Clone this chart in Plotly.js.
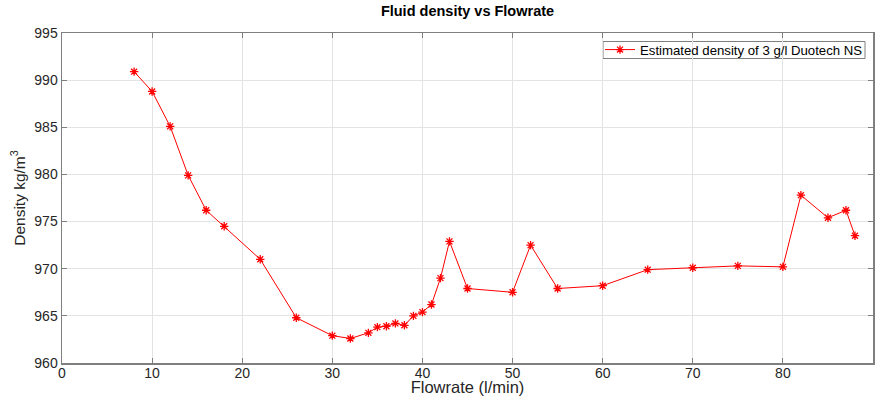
<!DOCTYPE html>
<html>
<head>
<meta charset="utf-8">
<script src="https://cdn.plot.ly/plotly-3.0.1.min.js"></script>
<style>html,body{margin:0;padding:0;background:#fff;}#chart{width:880px;height:396px;}</style>
</head>
<body>
<div id="chart"></div>
<script>
const flowrate = [8, 10, 12, 14, 16, 18, 22, 26, 30, 32, 34, 35, 36, 37, 38, 39, 40, 41, 42, 43, 45, 50, 52, 55, 60, 65, 70, 75, 80, 82, 85, 87, 88];
const density = [990.9, 988.8, 985.1, 979.9, 976.2, 974.5, 971.0, 964.8, 962.9, 962.6, 963.2, 963.8, 963.9, 964.2, 964.0, 965.0, 965.4, 966.2, 969.0, 972.9, 967.9, 967.5, 972.5, 967.9, 968.2, 969.9, 970.1, 970.3, 970.2, 977.8, 975.4, 976.2, 973.5];
const seriesName = "Estimated density of 3 g/l Duotech NS";
const xTicks = [0, 10, 20, 30, 40, 50, 60, 70, 80, 90];
const yTicks = [960, 965, 970, 975, 980, 985, 990, 995];

const font = "Liberation Sans, Arial, Helvetica, sans-serif";
const axisCommon = {
  showline: true, mirror: "ticks", linecolor: "#7f7f7f", linewidth: 1.5,
  ticks: "inside", ticklen: 5, tickcolor: "#7f7f7f", tickwidth: 1,
  showgrid: true, gridcolor: "#e3e3e3", gridwidth: 1, zeroline: false,
  tickfont: {family: font, size: 14, color: "#262626"}
};
// plot area in px: left 62, right 873, top 33, bottom 363 (width 811, height 330)
const pw = 811, ph = 330;
const lgBox = {x0: (603 - 62) / pw, x1: (865 - 62) / pw, y0: (363 - 58.5) / ph, y1: (363 - 41.5) / ph};
Plotly.newPlot("chart", [{
  x: flowrate, y: density, name: seriesName, type: "scatter", mode: "lines+markers",
  line: {color: "#ff0000", width: 1},
  marker: {symbol: "asterisk-open", size: 7, color: "#ff0000", line: {color: "#ff0000", width: 1.3}}
}], {
  width: 880, height: 396,
  margin: {l: 62, r: 7, t: 33, b: 33, autoexpand: false},
  paper_bgcolor: "#ffffff", plot_bgcolor: "#ffffff",
  title: {text: "<b>Fluid density vs Flowrate</b>", font: {family: font, size: 14.5, color: "#000"}, xref: "paper", x: 0.5, xanchor: "center", y: 0.972, yanchor: "middle"},
  showlegend: true,
  shapes: [{type: "rect", xref: "paper", yref: "paper", x0: lgBox.x0, x1: lgBox.x1, y0: lgBox.y0, y1: lgBox.y1,
    line: {color: "#7f7f7f", width: 1}, fillcolor: "#ffffff", layer: "between"}],
  legend: {x: (600 - 62) / pw, y: (363 - 50) / ph, xanchor: "left", yanchor: "middle", bgcolor: "rgba(0,0,0,0)", borderwidth: 0,
    font: {family: font, size: 13.2, color: "#000"}, itemwidth: 30, tracegroupgap: 0},
  xaxis: Object.assign({}, axisCommon, {range: [0, 90], tickvals: xTicks, ticktext: xTicks.map(String), ticklabelstandoff: -3,
    title: {text: "Flowrate (l/min)", font: {family: font, size: 16.5, color: "#262626"}, standoff: 1}}),
  yaxis: Object.assign({}, axisCommon, {range: [960, 995], tickvals: yTicks, ticktext: yTicks.map(String),
    title: {text: "Density kg/m<sup>3</sup>", font: {family: font, size: 15.5, color: "#262626"}, standoff: 5}})
}, {displayModeBar: false, staticPlot: true});
</script>
</body>
</html>
